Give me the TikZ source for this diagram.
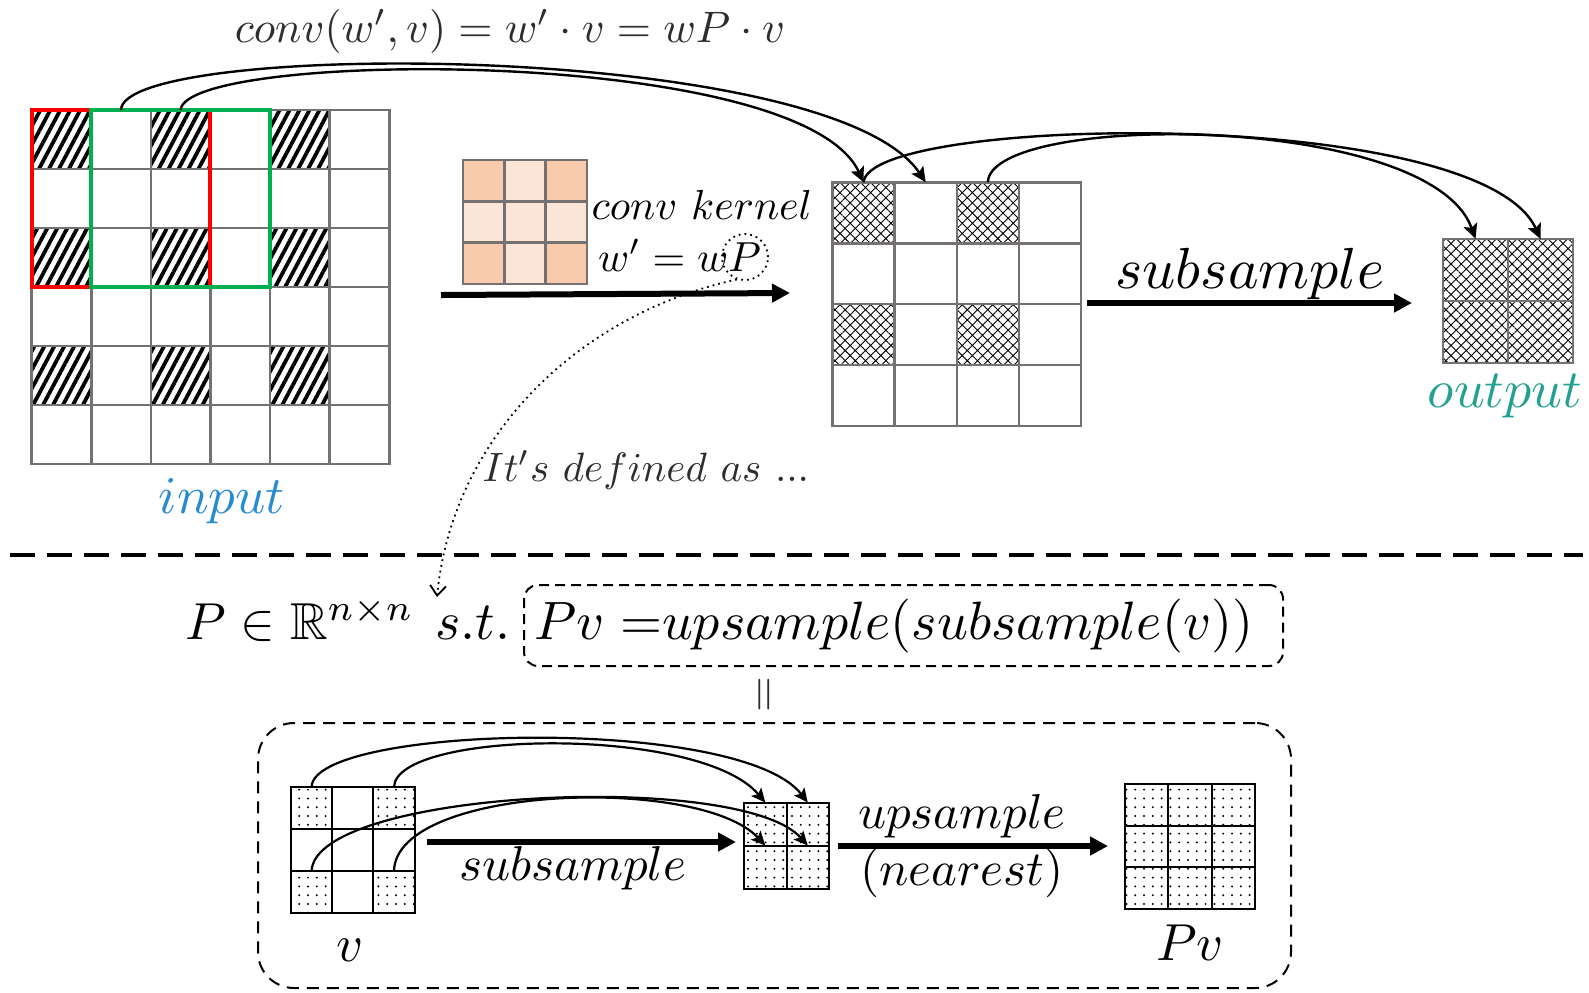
\documentclass[tikz,border=0pt]{standalone}
\usepackage{amssymb}
\usetikzlibrary{arrows.meta,patterns.meta}
\definecolor{gridgray}{RGB}{118,113,113}
\definecolor{dgray}{RGB}{45,45,45}
\definecolor{kdark}{HTML}{F8CBAD}
\definecolor{klight}{HTML}{FBE5D6}
\definecolor{redc}{RGB}{255,0,0}
\definecolor{greenc}{RGB}{0,176,80}
\definecolor{bluec}{RGB}{38,139,210}
\definecolor{tealc}{RGB}{34,160,145}
\begin{document}
\begin{tikzpicture}[x=0.5pt,y=-0.5pt,
  lbl/.style={inner sep=0pt, outer sep=0pt},
  cell/.style={rectangle, inner sep=0pt, outer sep=0pt},
  topcell/.style={cell, draw=gridgray, line width=1.3pt, fill=white},
  botcell/.style={cell, draw=black, line width=1pt, fill=white},
  cplain/.style={},
  chatch/.style={pattern={Lines[angle=62,distance=4.4pt,line width=1.9pt]}},
  ccross/.style={pattern={Hatch[angle=45,distance=3.6pt,line width=0.45pt]}},
  cdots/.style={pattern={Dots[distance=4.4pt,radius=0.55pt]}},
  cdark/.style={fill=kdark},
  clight/.style={fill=klight},
  curve/.style={line width=1.2pt, -{Stealth[length=7.5pt,width=7pt,inset=1.5pt]}},
  bcurve/.style={line width=1.1pt, -{Stealth[length=7pt,width=6.5pt,inset=1.5pt]}},
  bigarrow/.style={line width=3pt, -{Triangle[length=9pt,width=9pt]}},
  dbox/.style={draw, line width=1pt, dash pattern=on 5pt off 3pt}
]
\useasboundingbox (0,0) rectangle (1589,992);

% input grid 6x6
\foreach \r in {0,...,5}{\foreach \c in {0,...,5}{
  \def\cst{cplain}\ifodd\r\relax\else\ifodd\c\relax\else\def\cst{chatch}\fi\fi
  \node[topcell,\cst,minimum width=29.8pt,minimum height=29.5pt] (in-\r-\c) at ({31.6+(\c+0.5)*59.6},{110+(\r+0.5)*59}) {};
}}
\draw[redc, line width=2pt] (in-0-0.north west) rectangle (in-2-2.south east);
\draw[greenc, line width=2pt] (in-0-1.north west) rectangle (in-2-3.south east);

% kernel 3x3
\foreach \r in {0,...,2}{\foreach \c in {0,...,2}{
  \def\cst{clight}\ifodd\r\relax\else\ifodd\c\relax\else\def\cst{cdark}\fi\fi
  \node[topcell,\cst,minimum width=20.65pt,minimum height=20.65pt] (k-\r-\c) at ({463+(\c+0.5)*41.3},{160+(\r+0.5)*41.3}) {};
}}

% middle grid 4x4
\foreach \r in {0,...,3}{\foreach \c in {0,...,3}{
  \def\cst{cplain}\ifodd\r\relax\else\ifodd\c\relax\else\def\cst{ccross}\fi\fi
  \node[topcell,\cst,minimum width=31.05pt,minimum height=30.45pt] (mid-\r-\c) at ({832.6+(\c+0.5)*62.1},{182.3+(\r+0.5)*60.9}) {};
}}

% output grid 2x2
\foreach \r in {0,1}{\foreach \c in {0,1}{
  \node[topcell,ccross,minimum width=32.5pt,minimum height=31pt] (out-\r-\c) at ({1443+(\c+0.5)*65},{239+(\r+0.5)*62}) {};
}}

% v grid 3x3
\foreach \r in {0,...,2}{\foreach \c in {0,...,2}{
  \def\cst{cplain}\ifodd\r\relax\else\ifodd\c\relax\else\def\cst{cdots}\fi\fi
  \node[botcell,\cst,minimum width=20.6pt,minimum height=21pt] (v-\r-\c) at ({291+(\c+0.5)*41.2},{787+(\r+0.5)*42}) {};
}}

% small grid 2x2
\foreach \r in {0,1}{\foreach \c in {0,1}{
  \node[botcell,cdots,minimum width=21.25pt,minimum height=21.5pt] (s-\r-\c) at ({744+(\c+0.5)*42.5},{802.5+(\r+0.5)*43}) {};
}}

% Pv grid 3x3
\foreach \r in {0,...,2}{\foreach \c in {0,...,2}{
  \node[botcell,cdots,minimum width=21.65pt,minimum height=20.85pt] (pv-\r-\c) at ({1125+(\c+0.5)*43.3},{784+(\r+0.5)*41.7}) {};
}}

% labels
\node[lbl, anchor=base, text=dgray, scale=2.2] (teq) at (510,42) {$conv(w',v)=w'\cdot v=wP\cdot v$};
\node[lbl, anchor=base, scale=2.1] (tkern) at (702,219) {$conv\ kernel$};
\node[lbl, anchor=base east, scale=2.1] (tw) at (761,271) {$w'=wP$};
\node[draw, circle, dotted, line width=0.9pt, minimum size=23pt, inner sep=0pt] (circ) at (745,257) {};
\node[lbl, anchor=base, scale=2.9] (tsub) at (1250,288) {$subsample$};
\node[lbl, anchor=base, text=tealc, scale=2.7] (tout) at (1505,407) {$output$};
\node[lbl, anchor=base, text=bluec, scale=2.65] (tin) at (222,513) {$input$};
\node[lbl, anchor=base, text=dgray, scale=2.05] (tdef) at (646,481) {$It's\ defined\ as\ ...$};

\node[lbl, anchor=base, scale=2.6] (tP) at (300,639) {$P\in\mathbb{R}^{n\times n}$};
\node[lbl, anchor=base, scale=2.7] (tst) at (473,639) {$s.t.$};
\node[dbox, rounded corners=7pt, minimum width=379.5pt, minimum height=40.5pt] (boxA) at (903.5,625.5) {};
\node[lbl, anchor=base, scale=2.7] (tPv) at (894,639) {$Pv\;{=}upsample(subsample(v))$};
\node[lbl, rotate=90, text=dgray, scale=2.3] (teqv) at (767,695) {$=$};
\node[dbox, dash pattern=on 6pt off 4pt, rounded corners=18pt, minimum width=516.5pt, minimum height=132.5pt] (boxB) at (774.5,855.5) {};

\node[lbl, anchor=base, scale=2.45] (tbsub) at (573,880) {$subsample$};
\node[lbl, anchor=base, scale=2.45] (tup) at (962,828) {$upsample$};
\node[lbl, anchor=base, scale=2.45] (tnear) at (962,885) {$(nearest)$};
\node[lbl, anchor=base, scale=2.6] (tv) at (350,961) {$v$};
\node[lbl, anchor=base, scale=2.6] (tpv) at (1190,960) {$Pv$};

% coordinates for free-ended arrows
\coordinate (ka1) at (441,295);
\coordinate (ka2) at (790,293);
\coordinate (sa1) at (1087,303);
\coordinate (sa2) at (1412,303);
\coordinate (ba1) at (427,842);
\coordinate (ba2) at (736,842);
\coordinate (ua1) at (838,846);
\coordinate (ua2) at (1108,846);
\coordinate (sepL) at (10,555);
\coordinate (sepR) at (1583,555);
\coordinate (dtip) at (437,597);

\draw[bigarrow] (ka1) -- (ka2);
\draw[bigarrow] (sa1) -- (sa2);
\draw[bigarrow] (ba1) -- (ba2);
\draw[bigarrow] (ua1) -- (ua2);

\draw[line width=1.6pt, dash pattern=on 12.5pt off 6pt] (sepL) -- (sepR);

\draw[dotted, line width=0.9pt, -{Straight Barb[length=5pt,width=8pt]}] (circ.250) .. controls (575,315) and (452,440) .. (dtip);

% top curves
\draw[curve] (in-0-1.north) .. controls (122,40) and (830,40) .. (mid-0-1.north);
\draw[curve] (in-0-2.north) .. controls (185,50) and (800,45) .. (mid-0-0.north);
\draw[curve] (mid-0-0.north) .. controls (868,115) and (1480,105) .. (out-0-1.north);
\draw[curve] (mid-0-2.north) .. controls (990,112) and (1430,112) .. (out-0-0.north);

% bottom curves
\draw[bcurve] (v-0-0.north) .. controls (313,725) and (740,715) .. (s-0-1.north);
\draw[bcurve] (v-0-2.north) .. controls (396,730) and (700,725) .. (s-0-0.north);
\draw[bcurve] (v-2-0.north) .. controls (315,790) and (740,770) .. (s-1-1.north);
\draw[bcurve] (v-2-2.north) .. controls (396,785) and (700,775) .. (s-1-0.north);
\end{tikzpicture}
\end{document}
